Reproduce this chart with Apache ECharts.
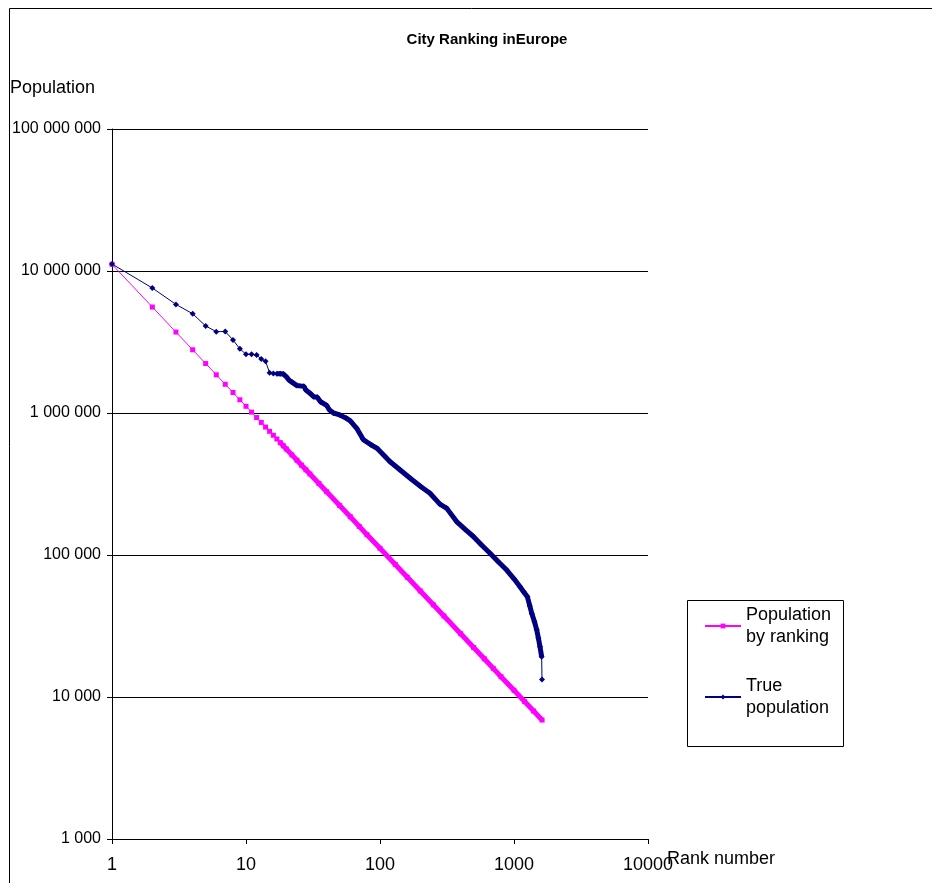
<!DOCTYPE html>
<html><head><meta charset="utf-8">
<script src="https://cdn.jsdelivr.net/npm/echarts@6/dist/echarts.min.js"></script>
<style>html,body{margin:0;padding:0;background:#fff}#c{width:932px;height:883px}</style>
</head><body><div id="c"></div><script>
// ---- data ----
const titleText = 'City Ranking inEurope';
const seriesNames = ['Population by ranking', 'True population'];
const xTickValues = [1, 10, 100, 1000, 10000];
const yTickValues = [1000, 10000, 100000, 1000000, 10000000, 100000000];

const rankByRanking = [1,2,3,4,5,6,7,8,9,10,11,12,13,14,15,16,17,18,19,20,22,24,26,28,30,35,40,50,60,70,80,100,130,160,200,250,300,400,500,600,700,800,1000,1200,1400,1620];
const popByRanking = [11150000,5575000,3717000,2788000,2230000,1858000,1593000,1394000,1239000,1115000,1014000,929000,858000,796000,743000,697000,656000,619000,587000,558000,507000,465000,429000,398000,372000,319000,279000,223000,186000,159000,139000,111500,85800,69700,55800,44600,37200,27900,22300,18600,15900,13900,11150,9290,7960,6880];

const rankTrue = [1,2,3,4,5,6,7,8,9,10,11,12,13,14,15,16,17,18,19,20,21,22,24,27,28,30,32,34,36,40,42,45,50,56,60,67,75,85,95,119,140,168,200,236,280,315,373,430,497,570,662,760,882,1000,1109,1180,1259,1310,1357,1420,1477,1520,1563,1608,1618];
const popTrue = [11200000,7590000,5820000,5000000,4100000,3740000,3750000,3270000,2830000,2590000,2590000,2560000,2400000,2310000,1920000,1900000,1890000,1890000,1880000,1800000,1700000,1650000,1560000,1540000,1450000,1380000,1300000,1290000,1200000,1130000,1050000,1000000,970000,920000,880000,780000,650000,600000,564000,454000,400000,347000,305000,272000,228000,213000,172000,152000,135000,118000,103000,90000,78300,68000,59800,55000,50800,44000,38800,34000,29700,26000,22600,19200,13300];

// ---- build ----
const PINK = '#FF00FF', NAVY = '#000080';
const FONT = "'Liberation Sans', Arial, sans-serif";
const pairs = (xs, ys) => xs.map((x, i) => [x, ys[i]]);
const pinkAll = pairs(rankByRanking, popByRanking);
const navyAll = pairs(rankTrue, popTrue);
const pinkDense = pinkAll.filter(p => p[0] >= 18);
const navyDense = navyAll.filter(p => p[0] >= 17 && p[0] <= 1608);
const fmtSpaces = v => String(Math.round(v)).replace(/\B(?=(\d{3})+(?!\d))/g, ' ');

const chart = echarts.init(document.getElementById('c'), null, {renderer: 'canvas'});
chart.setOption({
  animation: false,
  backgroundColor: '#fff',
  textStyle: {fontFamily: FONT, color: '#000'},
  title: {
    text: titleText, left: 482, top: 27, textAlign: 'center',
    textStyle: {fontFamily: FONT, fontSize: 15, fontWeight: 'bold', color: '#000'}
  },
  grid: {left: 112, top: 129, width: 536, height: 710, containLabel: false},
  xAxis: {
    type: 'log', logBase: 10, min: xTickValues[0], max: xTickValues[xTickValues.length - 1],
    axisLine: {show: true, onZero: false, lineStyle: {color: '#000', width: 1}},
    axisTick: {show: true, length: 5, lineStyle: {color: '#000'}},
    minorTick: {show: false},
    splitLine: {show: false},
    axisLabel: {margin: 17, fontSize: 18, color: '#000', fontFamily: FONT, showMinLabel: true, showMaxLabel: true,
      formatter: v => String(Math.round(v))}
  },
  yAxis: {
    type: 'log', logBase: 10, min: yTickValues[0], max: yTickValues[yTickValues.length - 1],
    axisLine: {show: true, lineStyle: {color: '#000', width: 1}},
    axisTick: {show: true, length: 5, lineStyle: {color: '#000'}},
    splitLine: {show: true, lineStyle: {color: '#000', width: 1}},
    axisLabel: {margin: 11, fontSize: 16, color: '#000', fontFamily: FONT, showMinLabel: true, showMaxLabel: true,
      formatter: fmtSpaces}
  },
  legend: {
    data: seriesNames,
    orient: 'vertical', left: 704, top: 593, padding: 0,
    itemWidth: 36, itemHeight: 6, itemGap: 5,
    formatter: n => n === seriesNames[0] ? 'Population\nby ranking' : 'True\npopulation',
    textStyle: {fontFamily: FONT, fontSize: 18, color: '#000', lineHeight: 22, padding: [22, 0, 0, 0]}
  },
  graphic: [
    {type: 'rect', silent: true, shape: {x: 9.5, y: 8.5, width: 1000, height: 1000},
     style: {fill: 'none', stroke: '#000', lineWidth: 1}},
    {type: 'rect', silent: true, shape: {x: 687.5, y: 600.5, width: 156, height: 146},
     style: {fill: 'none', stroke: '#000', lineWidth: 1}},
    {type: 'text', left: 10, top: 79, silent: true,
     style: {text: 'Population', font: "18px 'Liberation Sans', Arial, sans-serif", fill: '#000'}},
    {type: 'text', left: 667, top: 850, silent: true,
     style: {text: 'Rank number', font: "18px 'Liberation Sans', Arial, sans-serif", fill: '#000'}}
  ],
  series: [
    {name: seriesNames[0], type: 'line', data: pinkAll, symbol: 'rect', symbolSize: 5,
     showAllSymbol: true, lineStyle: {color: PINK, width: 1}, itemStyle: {color: PINK}, z: 3},
    {name: seriesNames[1], type: 'line', data: navyAll, symbol: 'diamond', symbolSize: 6,
     showAllSymbol: true, lineStyle: {color: NAVY, width: 1}, itemStyle: {color: NAVY}, z: 3},
    {name: seriesNames[0], type: 'line', data: pinkDense, symbol: 'none', silent: true,
     lineStyle: {color: PINK, width: 5}, itemStyle: {color: PINK}, z: 2},
    {name: seriesNames[1], type: 'line', data: navyDense, symbol: 'none', silent: true,
     lineStyle: {color: NAVY, width: 5}, itemStyle: {color: NAVY}, z: 2}
  ]
});
</script></body></html>
